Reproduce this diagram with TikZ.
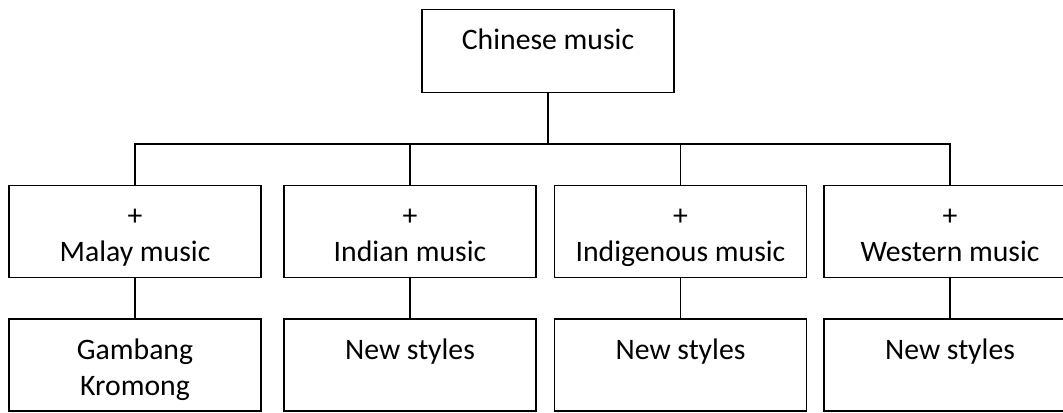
\documentclass[tikz,border=0pt]{standalone}
\usepackage{fontspec}
\setmainfont{Carlito}
\tikzset{
    box/.style={draw, black, line width=1.2pt, inner sep=0pt, minimum width=189pt, minimum height=69pt},
    txt/.style={anchor=north, align=center, inner sep=0pt, font=\fontsize{22.3}{27}\selectfont},
    link/.style={black, line width=1.2pt}
}
\begin{document}
\begin{tikzpicture}[x=0.75pt, y=-0.75pt]
    \useasboundingbox (0,0) rectangle (1063,412);
    \clip (0,0) rectangle (1063,412);
    % top box
    \node[box, minimum height=62pt] (chinese) at (548,51) {};
    \node[txt] (chinesetxt) at ([yshift=-11.5pt]chinese.north) {\strut Chinese music};
    \coordinate (fork) at (548,144);
    % second row
    \node[box] (malay) at (135,231.5) {};
    \node[txt] (malaytxt) at ([yshift=-11.5pt]malay.north) {\strut +\\Malay music};
    \node[box] (indian) at (410,231.5) {};
    \node[txt] (indiantxt) at ([yshift=-11.5pt]indian.north) {\strut +\\Indian music};
    \node[box] (indig) at (680.5,231.5) {};
    \node[txt] (indigtxt) at ([yshift=-11.5pt]indig.north) {\strut +\\Indigenous music};
    \node[box] (western) at (950,231.5) {};
    \node[txt] (westerntxt) at ([yshift=-11.5pt]western.north) {\strut +\\Western music};
    % third row
    \node[box] (gambang) at (135,365) {};
    \node[txt] (gambangtxt) at ([yshift=-11.5pt]gambang.north) {\strut Gambang\\Kromong};
    \node[box] (newa) at (410,365) {};
    \node[txt] (newatxt) at ([yshift=-11.5pt]newa.north) {\strut New styles};
    \node[box] (newb) at (680.5,365) {};
    \node[txt] (newbtxt) at ([yshift=-11.5pt]newb.north) {\strut New styles};
    \node[box] (newc) at (950,365) {};
    \node[txt] (newctxt) at ([yshift=-11.5pt]newc.north) {\strut New styles};
    % connectors
    \draw[link] (chinese.south) -- (fork);
    \draw[link] (malay.north) |- (fork);
    \draw[link] (indian.north) |- (fork);
    \draw[link] (indig.north) |- (fork);
    \draw[link] (western.north) |- (fork);
    \draw[link] (malay) -- (gambang);
    \draw[link] (indian) -- (newa);
    \draw[link] (indig) -- (newb);
    \draw[link] (western) -- (newc);
\end{tikzpicture}
\end{document}
